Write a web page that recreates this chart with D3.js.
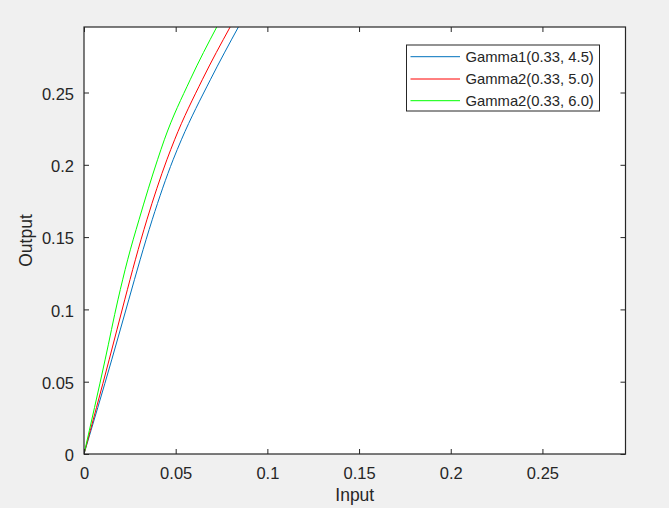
<!DOCTYPE html>
<html>
<head>
<meta charset="utf-8">
<script src="https://cdn.jsdelivr.net/npm/d3@7"></script>
<style>
  html, body { margin: 0; padding: 0; background: #f0f0f0; }
  svg { display: block; }
  text { font-family: "Liberation Sans", Arial, Helvetica, sans-serif; fill: #262626; }
</style>
</head>
<body>
<script>
// ---- data ----
const seriesNames = ["Gamma1(0.33, 4.5)", "Gamma2(0.33, 5.0)", "Gamma2(0.33, 6.0)"];
const seriesColors = ["#0072BD", "#FF0000", "#00FF00"];
const outputs     = [0, 0.0651, 0.1066, 0.1343, 0.162, 0.2035, 0.2173, 0.2588, 0.2953];
const inputsBlue  = [0, 0.0151, 0.0244, 0.0306, 0.0372, 0.0486, 0.0531, 0.0689, 0.0842];
const inputsRed   = [0, 0.0137, 0.0222, 0.0280, 0.0343, 0.0452, 0.0494, 0.0645, 0.0797];
const inputsGreen = [0, 0.0115, 0.0185, 0.0238, 0.0300, 0.0401, 0.0438, 0.0579, 0.0724];
const xTicks = [0, 0.05, 0.1, 0.15, 0.2, 0.25];
const yTicks = [0, 0.05, 0.1, 0.15, 0.2, 0.25];
const xTickLabels = ["0", "0.05", "0.1", "0.15", "0.2", "0.25"];
const yTickLabels = ["0", "0.05", "0.1", "0.15", "0.2", "0.25"];
const axisMax = 0.2953;

const W = 669, H = 508;
const L = 84, R = 625.5, T = 27, B = 454;

const svg = d3.select("body").append("svg").attr("width", W).attr("height", H);
svg.append("rect").attr("width", W).attr("height", H).attr("fill", "#f0f0f0");

const x = d3.scaleLinear().domain([0, axisMax]).range([L, R]);
const y = d3.scaleLinear().domain([0, axisMax]).range([B, T]);

svg.append("rect").attr("x", L).attr("y", T).attr("width", R - L).attr("height", B - T).attr("fill", "#fff");

svg.append("clipPath").attr("id", "clip").append("rect")
  .attr("x", L).attr("y", T).attr("width", R - L).attr("height", B - T);

const series = [inputsBlue, inputsRed, inputsGreen];
const line = d3.line().x(d => x(d[0])).y(d => y(d[1])).curve(d3.curveMonotoneX);
const plot = svg.append("g").attr("clip-path", "url(#clip)");
series.forEach((xs, i) => {
  const pts = xs.map((v, j) => [v, outputs[j]]);
  plot.append("path").datum(pts).attr("d", line)
    .attr("fill", "none").attr("stroke", seriesColors[i]).attr("stroke-width", 1);
});

// axes
const tickSize = 5;
const fs = 16.5;
const axB = svg.append("g").attr("transform", `translate(0,${B})`)
  .call(d3.axisBottom(x).tickValues(xTicks).tickFormat((d, i) => xTickLabels[i]).tickSizeInner(-tickSize).tickSizeOuter(0).tickPadding(13));
const axT = svg.append("g").attr("transform", `translate(0,${T})`)
  .call(d3.axisTop(x).tickValues(xTicks).tickFormat("").tickSizeInner(-tickSize).tickSizeOuter(0));
const axL = svg.append("g").attr("transform", `translate(${L},0)`)
  .call(d3.axisLeft(y).tickValues(yTicks).tickFormat((d, i) => yTickLabels[i]).tickSizeInner(-tickSize).tickSizeOuter(0).tickPadding(10));
const axR = svg.append("g").attr("transform", `translate(${R},0)`)
  .call(d3.axisRight(y).tickValues(yTicks).tickFormat("").tickSizeInner(-tickSize).tickSizeOuter(0));
[axB, axT, axL, axR].forEach(g => {
  g.select(".domain").remove();
  g.selectAll("line").attr("stroke", "#262626");
  g.selectAll("text").attr("font-size", fs).attr("fill", "#262626")
    .attr("font-family", '"Liberation Sans", Arial, sans-serif');
});
axL.selectAll("text").attr("dy", "0.4em");

svg.append("rect").attr("x", L).attr("y", T).attr("width", R - L).attr("height", B - T)
  .attr("fill", "none").attr("stroke", "#262626").attr("stroke-width", 1.2);

// labels
svg.append("text").attr("x", (L + R) / 2).attr("y", 501).attr("text-anchor", "middle")
  .attr("font-size", 17.5).text("Input");
svg.append("text").attr("transform", `translate(32,${(T + B) / 2}) rotate(-90)`)
  .attr("text-anchor", "middle").attr("font-size", 17.5).text("Output");

// legend
const lg = svg.append("g");
lg.append("rect").attr("x", 406.5).attr("y", 45).attr("width", 193).attr("height", 66)
  .attr("fill", "#fff").attr("stroke", "#262626").attr("stroke-width", 1);
const rowY = [56.7, 79, 100.7];
seriesNames.forEach((n, i) => {
  lg.append("line").attr("x1", 410.5).attr("x2", 460).attr("y1", rowY[i]).attr("y2", rowY[i])
    .attr("stroke", seriesColors[i]).attr("stroke-width", 1);
  lg.append("text").attr("x", 465.5).attr("y", rowY[i]).attr("dy", "0.36em")
    .attr("font-size", 14.8).text(n);
});
</script>
</body>
</html>
